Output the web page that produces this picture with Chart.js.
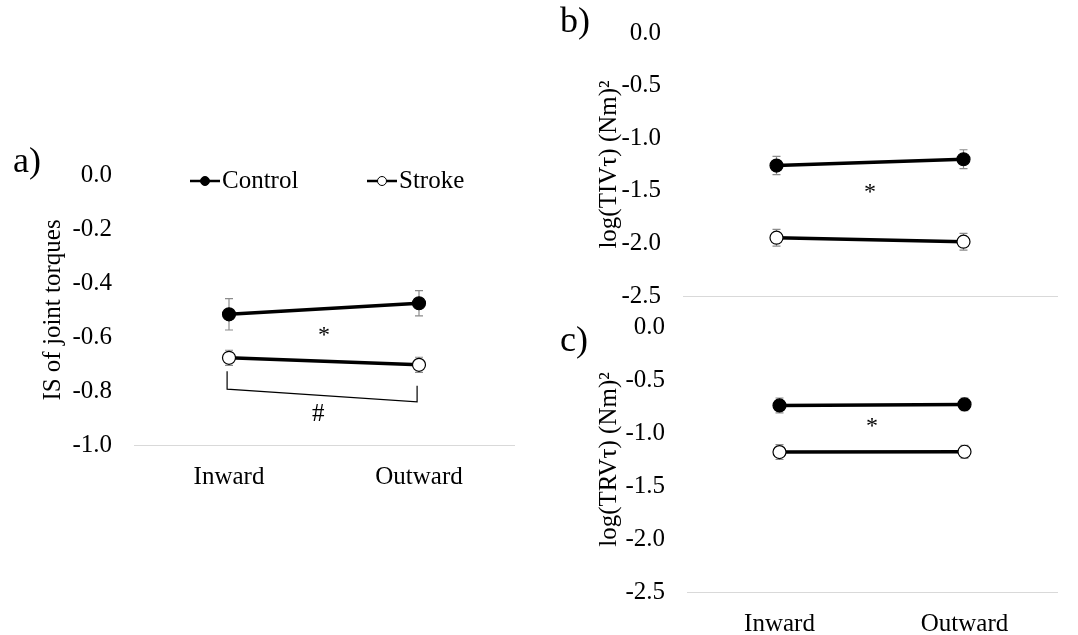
<!DOCTYPE html>
<html>
<head>
<meta charset="utf-8">
<script src="https://cdn.jsdelivr.net/npm/chart.js@4.4.1/dist/chart.umd.min.js"></script>
<style>
  body { margin: 0; background: #fff; }
  #wrap { position: relative; width: 1078px; height: 635px; overflow: hidden; font-family: 'Liberation Serif', serif; }
  #wrap canvas { position: absolute; }
  .tag { position: absolute; font-size: 36px; line-height: 1; color: #000; }
</style>
</head>
<body>
<div id="wrap">
  <canvas id="chartA" width="530" height="350" style="left:0;top:150px"></canvas>
  <canvas id="chartB" width="538" height="316" style="left:540px;top:0"></canvas>
  <canvas id="chartC" width="538" height="330" style="left:540px;top:305px"></canvas>
  <div class="tag" style="left:13px;top:142px">a)</div>
  <div class="tag" style="left:560px;top:2px">b)</div>
  <div class="tag" style="left:560px;top:321px">c)</div>
</div>
<script>
// categories
const categories = ['Inward', 'Outward'];
const seriesNames = ['Control', 'Stroke'];

// a) IS of joint torques
const isControl = [-0.516, -0.475];
const isControlErr = [0.058, 0.047];
const isStroke = [-0.677, -0.703];
const isStrokeErr = [0.028, 0.028];
const isTicks = { min: -1.0, max: 0.0, step: 0.2 };

// b) log(TIV)
const tivControl = [-1.26, -1.20];
const tivControlErr = [0.087, 0.09];
const tivStroke = [-1.946, -1.984];
const tivStrokeErr = [0.08, 0.08];

// c) log(TRV)
const trvControl = [-0.74, -0.73];
const trvControlErr = [0.07, 0.06];
const trvStroke = [-1.18, -1.177];
const trvStrokeErr = [0.07, 0.06];
const logTicks = { min: -2.5, max: 0.0, step: 0.5 };

// significance marks (category index, value)
const starA = [0.5, -0.595];
const starB = [0.5, -1.52];
const starC = [0.5, -0.945];
const bracketA = [[-0.01, -0.727], [-0.01, -0.793], [0.99, -0.84], [0.99, -0.781]];
const hashA = [0.47, -0.885];

const FONT = 25;
Chart.defaults.font.family = "'Liberation Serif', 'Times New Roman', serif";
Chart.defaults.color = '#000';

const errorBars = {
    id: 'errorBars',
    beforeDatasetsDraw(chart) {
        const { ctx, scales: { x, y } } = chart;
        ctx.save();
        ctx.strokeStyle = '#8c8c8c';
        ctx.lineWidth = 1.2;
        chart.data.datasets.forEach(ds => {
            (ds.errors || []).forEach((e, i) => {
                const px = x.getPixelForValue(i);
                const top = y.getPixelForValue(ds.data[i] + e);
                const bot = y.getPixelForValue(ds.data[i] - e);
                ctx.beginPath();
                ctx.moveTo(px, top); ctx.lineTo(px, bot);
                ctx.moveTo(px - 4, top); ctx.lineTo(px + 4, top);
                ctx.moveTo(px - 4, bot); ctx.lineTo(px + 4, bot);
                ctx.stroke();
            });
        });
        ctx.restore();
    }
};

const marks = {
    id: 'marks',
    afterDatasetsDraw(chart, args, opts) {
        const { ctx, scales: { x, y } } = chart;
        ctx.save();
        ctx.fillStyle = '#000';
        ctx.textAlign = 'center';
        ctx.textBaseline = 'middle';
        (opts.texts || []).forEach(t => {
            ctx.font = t.size + "px 'Liberation Serif'";
            ctx.fillText(t.text, x.getPixelForValue(t.at[0]), y.getPixelForValue(t.at[1]));
        });
        if (opts.bracket) {
            ctx.strokeStyle = '#000';
            ctx.lineWidth = 1.2;
            ctx.beginPath();
            opts.bracket.forEach((p, i) => {
                const px = x.getPixelForValue(p[0]), py = y.getPixelForValue(p[1]);
                if (i === 0) ctx.moveTo(px, py); else ctx.lineTo(px, py);
            });
            ctx.stroke();
        }
        if (opts.legend) {
            const { left, top } = chart.chartArea;
            const ly = top + opts.legend.dy;
            chart.data.datasets.forEach((ds, i) => {
                const lx = left + opts.legend.xs[i];
                ctx.strokeStyle = '#000';
                ctx.lineWidth = 2.5;
                ctx.beginPath();
                ctx.moveTo(lx, ly); ctx.lineTo(lx + 30, ly);
                ctx.stroke();
                ctx.beginPath();
                ctx.arc(lx + 15, ly, 4.5, 0, Math.PI * 2);
                ctx.fillStyle = ds.pointBackgroundColor;
                ctx.fill();
                ctx.lineWidth = 1;
                ctx.stroke();
                ctx.fillStyle = '#000';
                ctx.textAlign = 'left';
                ctx.font = FONT + "px 'Liberation Serif'";
                ctx.fillText(ds.label, lx + 32, ly);
            });
        }
        ctx.restore();
    }
};

function series(label, data, errors, fill) {
    return {
        label, data, errors,
        borderColor: '#000',
        borderWidth: 3.5,
        pointRadius: 6.5,
        pointHoverRadius: 6.5,
        pointBackgroundColor: fill,
        pointBorderColor: '#000',
        pointBorderWidth: 1.2,
        tension: 0,
    };
}

function makePanel(id, cfg) {
    new Chart(document.getElementById(id), {
        type: 'line',
        data: {
            labels: categories,
            datasets: [
                series(seriesNames[0], cfg.control, cfg.controlErr, '#000'),
                series(seriesNames[1], cfg.stroke, cfg.strokeErr, '#fff'),
            ],
        },
        options: {
            responsive: false,
            animation: false,
            events: [],
            layout: { padding: cfg.padding },
            plugins: {
                legend: { display: false },
                tooltip: { enabled: false },
                marks: cfg.marks,
            },
            scales: {
                x: {
                    offset: true,
                    grid: { display: false, drawTicks: false },
                    border: { display: true, color: '#d9d9d9', width: 1 },
                    ticks: { display: cfg.showX, padding: 17, font: { size: FONT } },
                    afterFit: s => { s.height = cfg.xHeight; s.paddingLeft = 0; s.paddingRight = 0; },
                },
                y: {
                    min: cfg.ticks.min,
                    max: cfg.ticks.max,
                    grid: { display: false, drawTicks: false },
                    border: { display: false },
                    ticks: {
                        stepSize: cfg.ticks.step,
                        padding: 22,
                        font: { size: FONT },
                        callback: v => v.toFixed(1),
                    },
                    title: {
                        display: true,
                        text: cfg.title,
                        font: { size: FONT },
                        padding: { top: cfg.titlePad, bottom: 0 },
                    },
                    afterFit: s => { s.width = cfg.yWidth; s.paddingTop = 0; s.paddingBottom = 0; },
                },
            },
        },
        plugins: [errorBars, marks],
    });
}

makePanel('chartA', {
    control: isControl, controlErr: isControlErr,
    stroke: isStroke, strokeErr: isStrokeErr,
    ticks: isTicks,
    title: 'IS of joint torques',
    titlePad: 38,
    yWidth: 134, xHeight: 55, showX: true,
    padding: { top: 25, right: 16, bottom: 0, left: 0 },
    marks: {
        texts: [
            { text: '*', at: starA, size: 24 },
            { text: '#', at: hashA, size: 25 },
        ],
        bracket: bracketA,
        legend: { dy: 6, xs: [56, 233] },
    },
});

makePanel('chartB', {
    control: tivControl, controlErr: tivControlErr,
    stroke: tivStroke, strokeErr: tivStrokeErr,
    ticks: logTicks,
    title: 'log(TIV\u03C4) (Nm)\u00B2',
    titlePad: 54,
    yWidth: 143, xHeight: 20, showX: false,
    padding: { top: 33, right: 21, bottom: 0, left: 0 },
    marks: { texts: [{ text: '*', at: starB, size: 24 }] },
});

makePanel('chartC', {
    control: trvControl, controlErr: trvControlErr,
    stroke: trvStroke, strokeErr: trvStrokeErr,
    ticks: logTicks,
    title: 'log(TRV\u03C4) (Nm)\u00B2',
    titlePad: 54,
    yWidth: 147, xHeight: 43, showX: true,
    padding: { top: 22, right: 21, bottom: 0, left: 0 },
    marks: { texts: [{ text: '*', at: starC, size: 24 }] },
});
</script>
</body>
</html>
